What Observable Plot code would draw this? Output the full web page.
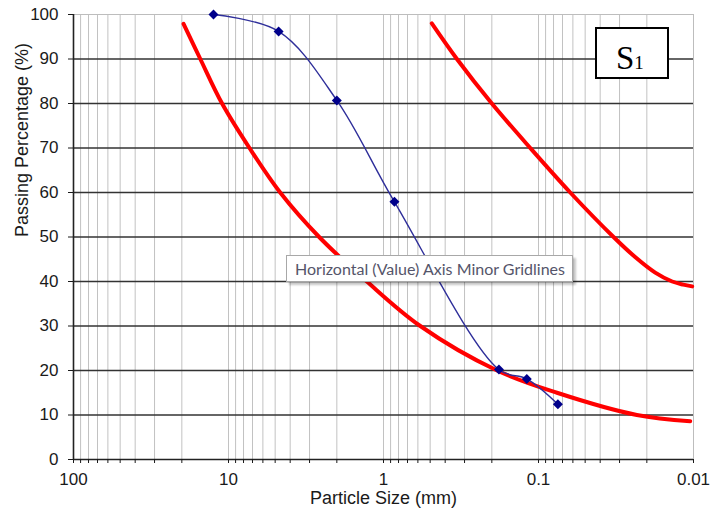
<!DOCTYPE html>
<html>
<head>
<meta charset="utf-8">
<script src="https://cdn.jsdelivr.net/npm/d3@7"></script>
<script src="https://cdn.jsdelivr.net/npm/@observablehq/plot@0.6"></script>
<style>
  body { margin: 0; background: #fff; }
  #wrap { position: relative; width: 714px; height: 520px; overflow: hidden; background: #fff; }
  #tip { position: absolute; left: 286px; top: 255px; width: 287px; height: 27px; background: #fff;
         border: 1px solid #a8a8a8; box-shadow: 3px 3px 2px rgba(0,0,0,0.22); box-sizing: border-box; }
  #tip svg, #s1 svg { display: block; }
  #s1 { position: absolute; left: 595px; top: 27px; width: 74px; height: 52px; border: 2px solid #000;
        box-sizing: border-box; background: #fff; }
</style>
</head>
<body>
<div id="wrap">
  <div id="chart"></div>
  <div id="tip"><svg width="285" height="25"><text x="8" y="19" textLength="270" lengthAdjust="spacingAndGlyphs"
     font-family="Lato, 'Open Sans', sans-serif" font-size="15.5" fill="#55556a">Horizontal (Value) Axis Minor Gridlines</text></svg></div>
  <div id="s1"><svg width="70" height="48"><text x="19" y="40" font-family="'Liberation Serif', serif" fill="#000"><tspan font-size="33">S</tspan><tspan font-size="19">1</tspan></text></svg></div>
</div>
<script>
// Sample gradation (blue, with markers)
const sampleSize = [12.5, 4.75, 2.0, 0.85, 0.18, 0.119, 0.075];
const samplePass = [100, 96.2, 80.7, 57.9, 20.2, 18.1, 12.4];

// Lower envelope (red, left)
const lowerSize = [19.5, 15.2, 11.0, 7.32, 4.64, 2.60, 1.28, 0.579, 0.185, 0.076, 0.0232, 0.0105];
const lowerPass = [97.9, 90, 80, 70, 60, 50, 40, 30, 20, 15, 10, 8.6];

// Upper envelope (red, right)
const upperSize = [0.488, 0.336, 0.200, 0.113, 0.0624, 0.0328, 0.0238, 0.01766, 0.01372, 0.01164, 0.0102];
const upperPass = [98, 90, 80, 70, 60, 50, 45.5, 42.0, 40.0, 39.3, 38.9];

// Axis ticks
const xMajorTicks = [100, 10, 1, 0.1, 0.01];
const yTicks = [0, 10, 20, 30, 40, 50, 60, 70, 80, 90, 100];
const yGrid = [10, 20, 30, 40, 50, 60, 70, 80, 90];
const xTitle = "Particle Size (mm)";
const yTitle = "Passing Percentage (%)";

const toRows = (xs, ys) => xs.map((x, i) => ({size: x, pass: ys[i]}));
const sample = toRows(sampleSize, samplePass);
const lower = toRows(lowerSize, lowerPass);
const upper = toRows(upperSize, upperPass);

const xMinor = d3.scaleLog().domain([0.01, 100]).ticks();

const chart = Plot.plot({
  width: 714,
  height: 520,
  marginLeft: 73,
  marginRight: 21,
  marginTop: 14,
  marginBottom: 61,
  style: {fontFamily: "'Liberation Sans', Arial, sans-serif", fontSize: "17px", color: "#1a1a1a", background: "#fff", overflow: "visible"},
  x: {type: "log", domain: [100, 0.01]},
  y: {domain: [0, 100]},
  marks: [
    Plot.ruleX(xMinor, {stroke: "#c2c2c2", strokeWidth: 1}),
    Plot.ruleY(yGrid, {stroke: "#333", strokeWidth: 1.3}),
    Plot.frame({stroke: "#bdbdbd", strokeWidth: 1}),
    Plot.ruleX([100], {stroke: "#222", strokeWidth: 1.6}),
    Plot.ruleY([0], {stroke: "#222", strokeWidth: 1.6}),
    Plot.axisY({ticks: yTicks, tickSize: 5, tickPadding: 10, label: null, tickFormat: d => String(d)}),
    Plot.axisX({ticks: xMinor, tickSize: 4, tickFormat: () => "", label: null}),
    Plot.axisX({ticks: xMajorTicks, tickSize: 4, tickPadding: 9, label: null, tickFormat: d => String(d)}),
    Plot.text([yTitle], {frameAnchor: "left", dx: -51, rotate: -90, fontSize: 18, fill: "#1a1a1a"}),
    Plot.text([xTitle], {frameAnchor: "bottom", dy: 44, fontSize: 18, fill: "#1a1a1a"}),
    Plot.line(lower, {x: "size", y: "pass", stroke: "#ff0000", strokeWidth: 4, curve: "catmull-rom"}),
    Plot.line(upper, {x: "size", y: "pass", stroke: "#ff0000", strokeWidth: 4, curve: "catmull-rom"}),
    Plot.line(sample, {x: "size", y: "pass", stroke: "#2e2e9a", strokeWidth: 1.4, curve: "catmull-rom"}),
    Plot.dot(sample, {x: "size", y: "pass", symbol: "diamond2", r: 4.5, fill: "#00008b", stroke: "none"})
  ]
});
document.getElementById("chart").appendChild(chart);
</script>
</body>
</html>
